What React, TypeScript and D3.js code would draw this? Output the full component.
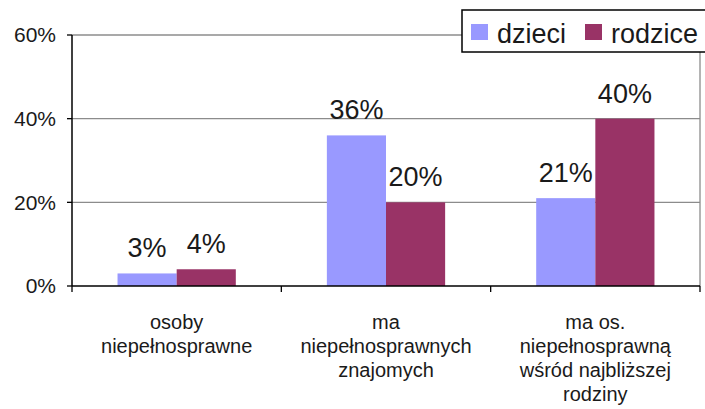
import React from "react";
import * as d3 from "d3";

const categories: string[][] = [
  ["osoby", "niepełnosprawne"],
  ["ma", "niepełnosprawnych", "znajomych"],
  ["ma os.", "niepełnosprawną", "wśród najbliższej", "rodziny"],
];
const seriesNames = ["dzieci", "rodzice"];
const dzieci = [3, 36, 21];
const rodzice = [4, 20, 40];
const yTicks = [0, 20, 40, 60];
const colors = ["#9999FF", "#993366"];

const W = 705;
const H = 409;
const left = 72;
const right = 700;
const top = 35;
const bottom = 286;
const FONT = "'Liberation Sans', Arial, sans-serif";

export default function App() {
  const values = [dzieci, rodzice];
  const x0 = d3
    .scaleBand<number>()
    .domain(categories.map((_, i) => i))
    .range([left, right])
    .paddingInner(0)
    .paddingOuter(0);
  const groupW = x0.bandwidth() * 0.565;
  const x1 = d3
    .scaleBand<number>()
    .domain(seriesNames.map((_, i) => i))
    .range([0, groupW])
    .padding(0);
  const y = d3.scaleLinear().domain([0, 60]).range([bottom, top]);
  const catTicks = [...categories.map((_, i) => x0(i)!), right];

  const legendX = 462;
  const legendY = 10;
  const legendH = 42;

  return (
    <div style={{ position: "absolute", left: 0, top: 0 }}>
      <svg width={W} height={H} style={{ display: "block", background: "#fff" }} fontFamily={FONT}>
        {/* gridlines */}
        {yTicks.slice(1).map((t) => (
          <line key={t} x1={left} x2={right} y1={y(t)} y2={y(t)} stroke="#8c8c8c" strokeWidth={1.3} />
        ))}
        {/* right border */}
        <line x1={right} x2={right} y1={y(60)} y2={bottom} stroke="#8c8c8c" strokeWidth={1.3} />
        {/* bars */}
        {categories.map((_, i) => {
          const gx = x0(i)! + (x0.bandwidth() - groupW) / 2;
          return values.map((vals, s) => (
            <rect
              key={`${i}-${s}`}
              x={gx + x1(s)!}
              y={y(vals[i])}
              width={x1.bandwidth()}
              height={bottom - y(vals[i])}
              fill={colors[s]}
            />
          ));
        })}
        {/* data labels */}
        {categories.map((_, i) => {
          const gx = x0(i)! + (x0.bandwidth() - groupW) / 2;
          return values.map((vals, s) => (
            <text
              key={`l-${i}-${s}`}
              x={gx + x1(s)! + x1.bandwidth() / 2}
              y={y(vals[i]) - 16}
              textAnchor="middle"
              fontSize={27}
              fill="#1a1a1a"
            >
              {vals[i]}%
            </text>
          ));
        })}
        {/* y axis */}
        <line x1={left} x2={left} y1={y(60)} y2={bottom} stroke="#000" strokeWidth={1.5} />
        {yTicks.map((t) => (
          <g key={`yt-${t}`}>
            <line x1={left - 5} x2={left} y1={y(t)} y2={y(t)} stroke="#000" strokeWidth={1.3} />
            <text x={56} y={y(t)} dy="0.35em" textAnchor="end" fontSize={21} fill="#1a1a1a">
              {t}%
            </text>
          </g>
        ))}
        {/* x axis */}
        <line x1={left} x2={right} y1={bottom} y2={bottom} stroke="#000" strokeWidth={1.5} />
        {catTicks.map((cx, i) => (
          <line key={`xt-${i}`} x1={cx} x2={cx} y1={bottom} y2={bottom + 6} stroke="#000" strokeWidth={1.3} />
        ))}
        {categories.map((lines, i) => (
          <text
            key={`c-${i}`}
            x={x0(i)! + x0.bandwidth() / 2}
            y={329}
            textAnchor="middle"
            fontSize={20}
            fill="#1a1a1a"
          >
            {lines.map((ln, j) => (
              <tspan key={j} x={x0(i)! + x0.bandwidth() / 2} dy={j === 0 ? 0 : 24}>
                {ln}
              </tspan>
            ))}
          </text>
        ))}
        {/* legend */}
        <rect x={legendX} y={legendY} width={W - legendX + 10} height={legendH} fill="#fff" stroke="#000" strokeWidth={1.5} />
        <rect x={471} y={24} width={17} height={16} fill={colors[0]} />
        <text x={497} y={43} fontSize={27} fill="#1a1a1a">{seriesNames[0]}</text>
        <rect x={585} y={24} width={17} height={16} fill={colors[1]} />
        <text x={611} y={43} fontSize={27} fill="#1a1a1a">{seriesNames[1]}</text>
      </svg>
    </div>
  );
}
